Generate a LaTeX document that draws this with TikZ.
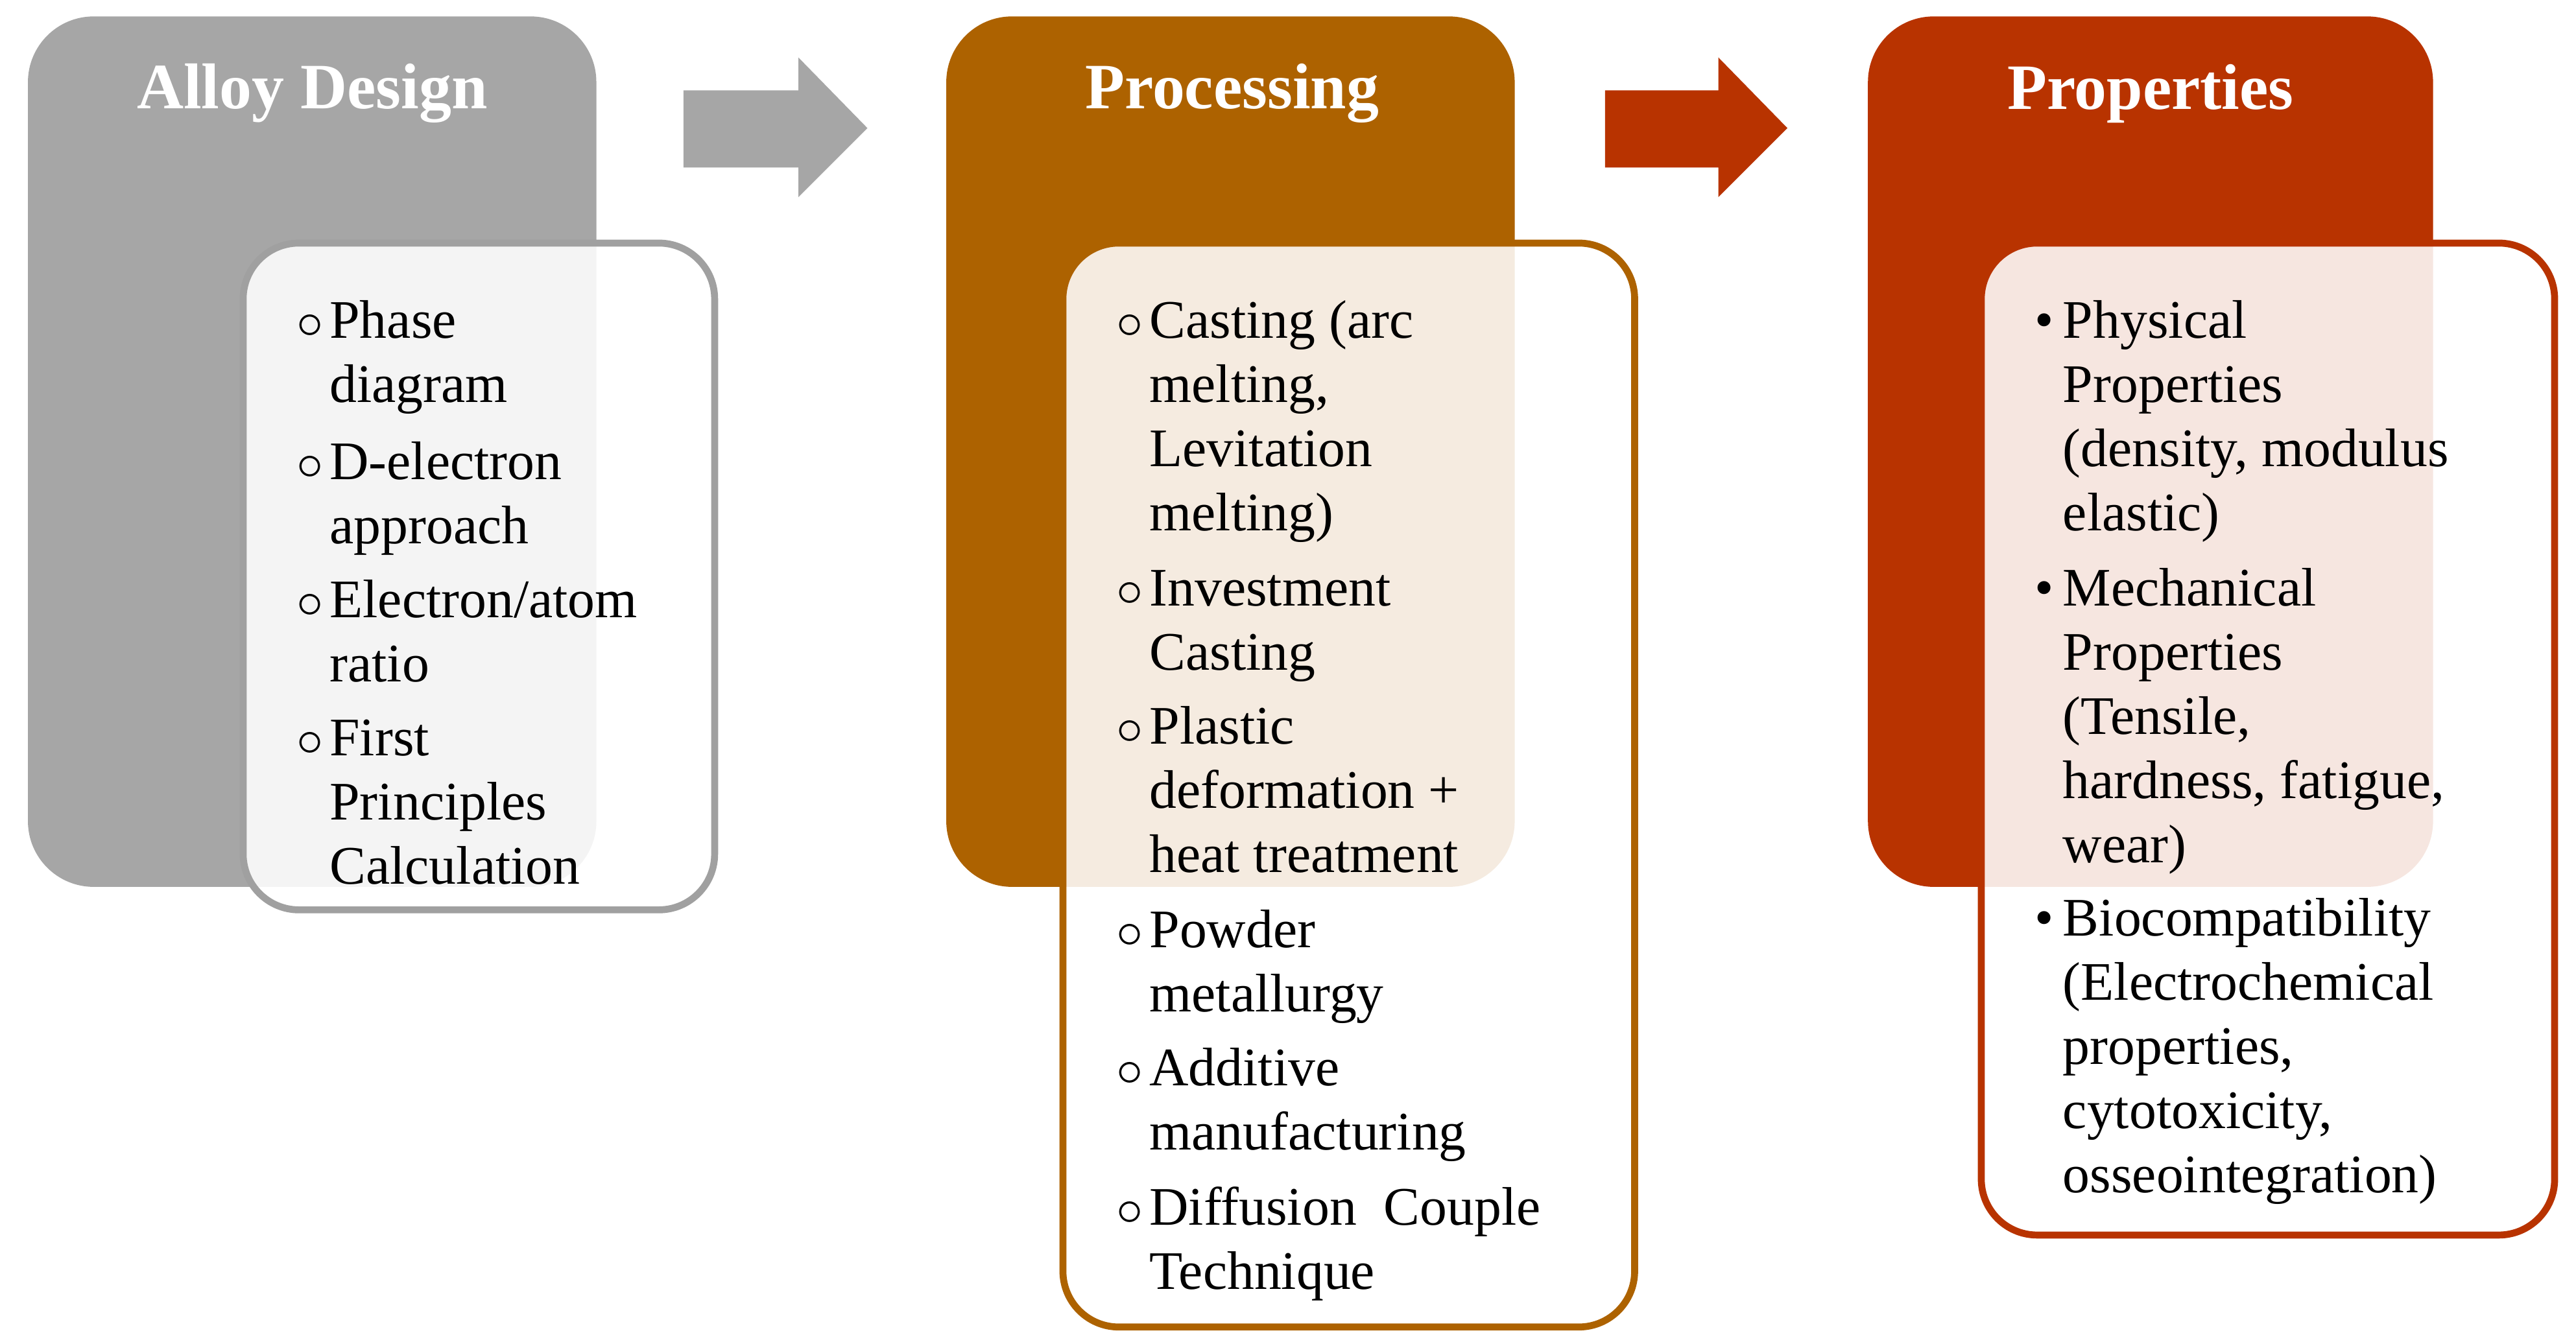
\documentclass[tikz,border=0pt]{standalone}
\usepackage{fontspec}
\setmainfont{Liberation Serif}
\definecolor{cgray}{HTML}{A6A6A6}
\definecolor{cbrown}{HTML}{AD6200}
\definecolor{cred}{HTML}{B83300}
\definecolor{bgray}{HTML}{A0A0A0}
\newcommand{\itmO}[1]{\makebox[20\pxu][l]{$\circ$}\begin{tabular}[t]{@{}l@{}}#1\end{tabular}}
\newcommand{\itmB}[1]{\makebox[17\pxu][l]{\textbullet}\begin{tabular}[t]{@{}l@{}}#1\end{tabular}}
\newlength{\pxu}\setlength{\pxu}{0.01cm}
\begin{document}
\begin{tikzpicture}[x=0.01cm,y=-0.01cm,
  big/.style={rounded corners=40\pxu},
  wb/.style={rounded corners=34\pxu,fill=white,fill opacity=0.88,line width=1.2pt},
  ttl/.style={text=white,font=\fontsize{11.2}{13}\selectfont\bfseries},
  itm/.style={anchor=base west,inner sep=0pt,font=\fontsize{9.4}{11.1}\selectfont}]
\useasboundingbox (0,0) rectangle (1568,818);
% big boxes
\fill[cgray,big] (17,10) rectangle (363,540);
\fill[cbrown,big] (576,10) rectangle (922,540);
\fill[cred,big] (1137,10) rectangle (1481,540);
% arrows
\fill[cgray] (416,55) -- (486,55) -- (486,35) -- (528,78) -- (486,120) -- (486,102) -- (416,102) -- cycle;
\fill[cred] (977,55) -- (1046,55) -- (1046,35) -- (1088,78) -- (1046,120) -- (1046,102) -- (977,102) -- cycle;
% titles
\node[ttl] (t1) at (190,57) {Alloy Design};
\node[ttl] (t2) at (750,57) {Processing};
\node[ttl] (t3) at (1309,57) {Properties};
% white boxes
\draw[wb,draw=bgray] (148,148) rectangle (435,554);
\draw[wb,draw=cbrown] (647,148) rectangle (995,808);
\draw[wb,draw=cred] (1206,148) rectangle (1555,752);
% texts
\node[itm] (a1) at (180,206) {\itmO{Phase\\diagram}};
\node[itm] (a2) at (180,292) {\itmO{D-electron\\approach}};
\node[itm] (a3) at (180,376) {\itmO{Electron/atom\\ratio}};
\node[itm] (a4) at (180,460) {\itmO{First\\Principles\\Calculation}};
\node[itm] (p1) at (679,206) {\itmO{Casting (arc\\melting,\\Levitation\\melting)}};
\node[itm] (p2) at (679,369) {\itmO{Investment\\Casting}};
\node[itm] (p3) at (679,453) {\itmO{Plastic\\deformation +\\heat treatment}};
\node[itm] (p4) at (679,577) {\itmO{Powder\\metallurgy}};
\node[itm] (p5) at (679,661) {\itmO{Additive\\manufacturing}};
\node[itm] (p6) at (679,746) {\itmO{Diffusion\ \ Couple\\Technique}};
\node[itm] (r1) at (1238,206) {\itmB{Physical\\Properties\\(density, modulus\\elastic)}};
\node[itm] (r2) at (1238,369) {\itmB{Mechanical\\Properties\\(Tensile,\\hardness,\ fatigue,\\wear)}};
\node[itm] (r3) at (1238,570) {\itmB{Biocompatibility\\(Electrochemical\\properties,\\cytotoxicity,\\osseointegration)}};
\end{tikzpicture}
\end{document}
